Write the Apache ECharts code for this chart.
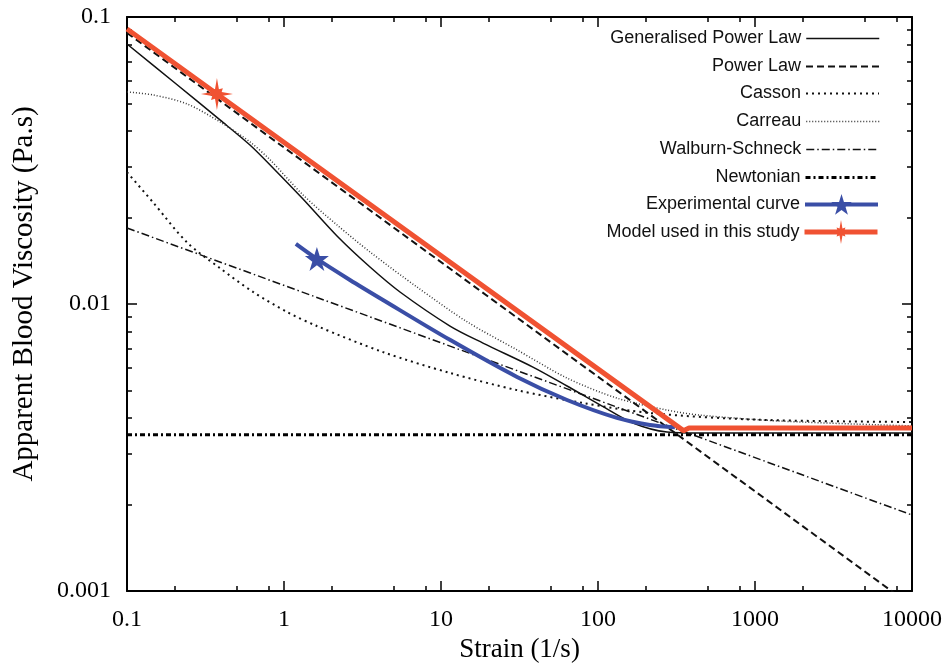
<!DOCTYPE html>
<html>
<head>
<meta charset="utf-8">
<script src="https://cdn.jsdelivr.net/npm/echarts@6/dist/echarts.min.js"></script>
<style>
html, body { margin: 0; padding: 0; background: #fff; }
#chart { width: 951px; height: 669px; }
</style>
</head>
<body>
<div id="chart"></div>
<script>
// ticks
var xTickLabels = ['0.1', '1', '10', '100', '1000', '10000'];
var xMinorTicks = [0.2, 0.5, 0.8, 2, 5, 8, 20, 50, 80, 200, 500, 800, 2000, 5000, 8000];
var xMajorTicks = [0.1, 1, 10, 100, 1000, 10000];
var yTickLabels = ['0.001', '0.01', '0.1'];
var yMinorTicks = [0.002, 0.003, 0.004, 0.005, 0.006, 0.007, 0.008, 0.009,
                   0.02, 0.03, 0.04, 0.05, 0.06, 0.07, 0.08, 0.09];
var yMajorTicks = [0.001, 0.01, 0.1];

// curves, strain (1/s) vs viscosity (Pa.s)
var gplStrain = [0.1, 0.2021, 0.391, 0.607, 0.876, 1.321, 2.176, 3.53, 5.48, 11.41, 18.5, 38.5, 63.5, 103, 167, 275, 446, 10000];
var gplVisc   = [0.0805, 0.0589, 0.0438, 0.0358, 0.0293, 0.0232, 0.01725, 0.01345, 0.01101, 0.00838, 0.00731, 0.00603, 0.00518, 0.00445, 0.00385, 0.00358, 0.00355, 0.00355];

var plStrain = [0.1, 10000];
var plVisc   = [0.088, 0.000887];

var cassonStrain = [0.1, 0.1465, 0.241, 0.391, 0.635, 1.05, 1.62, 4.27, 11.4, 30.5, 80, 214, 1070, 10000];
var cassonVisc   = [0.0288, 0.0226, 0.0164, 0.01333, 0.01102, 0.00937, 0.00838, 0.0068, 0.00575, 0.00501, 0.00452, 0.00417, 0.00395, 0.00388];

var carreauStrain = [0.1, 0.1465, 0.241, 0.391, 0.607, 0.815, 1.321, 2.176, 3.53, 7.03, 14.7, 30.5, 63.5, 132, 275, 446, 1443, 10000];
var carreauVisc   = [0.0548, 0.0535, 0.0498, 0.0431, 0.0367, 0.0318, 0.024, 0.01885, 0.01518, 0.01146, 0.00866, 0.00692, 0.00552, 0.0047, 0.00427, 0.0041, 0.00391, 0.00376];

var wsStrain = [0.1, 10000];
var wsVisc   = [0.0184, 0.00184];

var newtStrain = [0.1, 10000];
var newtVisc   = [0.0035, 0.0035];

var expStrain = [1.19, 1.62, 2.63, 4.27, 11.4, 30.5, 63.5, 132, 214, 309];
var expVisc   = [0.0162, 0.01436, 0.01213, 0.01033, 0.0075, 0.00557, 0.00463, 0.00401, 0.00379, 0.00372];
var expMarker = 1;

var modelStrain = [0.1, 0.374, 350, 380, 10000];
var modelVisc   = [0.0908, 0.0539, 0.00362, 0.0037, 0.0037];
var modelMarker = 1;

var seriesNames = ['Generalised Power Law', 'Power Law', 'Casson', 'Carreau',
                   'Walburn-Schneck', 'Newtonian', 'Experimental curve', 'Model used in this study'];

var starPath = 'path://M50 0 L61.2 34.5 L97.6 34.5 L68.2 55.9 L79.4 90.5 L50 69.1 L20.6 90.5 L31.8 55.9 L2.4 34.5 L38.8 34.5 Z';
var sparklePath = 'path://M100 50 L64.8 56.1 L68.4 68.4 L56.1 64.8 L50 100 L43.9 64.8 L31.6 68.4 L35.2 56.1 L0 50 L35.2 43.9 L31.6 31.6 L43.9 35.2 L50 0 L56.1 35.2 L68.4 31.6 L64.8 43.9 Z';

var lineStyles = [
    { color: '#111', width: 1.5, type: 'solid' },
    { color: '#111', width: 2, type: [7, 4] },
    { color: '#111', width: 2, type: [2, 4] },
    { color: '#333', width: 1.5, type: [1, 2] },
    { color: '#111', width: 1.5, type: [8, 3, 1.5, 3] },
    { color: '#000', width: 3, type: [5, 3, 2, 3] },
    { color: '#3a4ea6', width: 4, type: 'solid' },
    { color: '#f05232', width: 5, type: 'solid' }
];

function pairs(xs, ys, markIdx) {
    return xs.map(function (x, i) {
        var item = { value: [x, ys[i]] };
        if (markIdx !== undefined && i !== markIdx) {
            item.symbol = 'none';
        }
        return item;
    });
}

function lineSeries(idx, xs, ys, extra) {
    extra = extra || {};
    var style = lineStyles[idx];
    return {
        name: seriesNames[idx],
        type: 'line',
        xAxisIndex: 0,
        yAxisIndex: 0,
        data: pairs(xs, ys, extra.markIdx),
        symbol: extra.symbol || 'none',
        symbolSize: extra.symbolSize,
        smooth: extra.smooth ? 0.3 : false,
        lineStyle: style,
        itemStyle: { color: style.color },
        emphasis: { disabled: true },
        z: extra.z || 2
    };
}

function log10List(list) {
    return list.map(function (v) { return Math.log10(v); });
}

// one legend per row so the texts line up on the right
function makeLegend(name, i) {
    var hasMark = i >= 6;
    var h = i === 7 ? 30 : 26;
    return {
        data: [name],
        orient: 'vertical',
        right: 71,
        top: Math.round(41 + i * 27.7 - h / 2),
        align: 'right',
        itemWidth: 73,
        itemHeight: h,
        padding: 0,
        selectedMode: false,
        lineStyle: { width: lineStyles[i].width },
        itemStyle: hasMark ? {} : { opacity: 0 },
        textStyle: { fontFamily: 'Liberation Sans', fontSize: 18, color: '#111' }
    };
}

function helperAxis(position, min, max, ticks, len, showLine) {
    return {
        type: 'value', min: min, max: max, position: position,
        axisLine: { show: showLine, onZero: false, lineStyle: { color: '#000', width: 2 } },
        axisTick: { show: true, inside: true, length: len, customValues: log10List(ticks), lineStyle: { color: '#000', width: 1.5 } },
        axisLabel: { show: false },
        splitLine: { show: false }
    };
}

var serif = 'Liberation Serif';
var black = '#000';

var option = {
    animation: false,
    backgroundColor: '#fff',
    grid: { left: 127, right: 39, top: 17, bottom: 78, containLabel: false, outerBoundsMode: 'none' },
    legend: seriesNames.map(makeLegend),
    xAxis: [
        {
            type: 'log', logBase: 10, min: 0.1, max: 10000, position: 'bottom',
            name: 'Strain (1/s)', nameLocation: 'middle', nameGap: 44,
            nameTextStyle: { fontFamily: serif, fontSize: 27, color: black },
            axisLine: { onZero: false, lineStyle: { color: black, width: 2 } },
            axisTick: { inside: true, length: 10, lineStyle: { color: black, width: 1.5 } },
            axisLabel: {
                fontFamily: serif, fontSize: 24, color: black, margin: 17,
                formatter: function (v) { return xTickLabels[Math.round(Math.log10(v)) + 1]; }
            },
            splitLine: { show: false }
        },
        helperAxis('bottom', -1, 4, xMinorTicks, 5, false),
        helperAxis('top', -1, 4, xMajorTicks, 10, true),
        helperAxis('top', -1, 4, xMinorTicks, 5, false)
    ],
    yAxis: [
        {
            type: 'log', logBase: 10, min: 0.001, max: 0.1, position: 'left',
            name: 'Apparent Blood Viscosity (Pa.s)', nameLocation: 'middle', nameGap: 88,
            nameTextStyle: { fontFamily: serif, fontSize: 29, color: black, padding: [0, 0, 0, 20] },
            axisLine: { show: true, onZero: false, lineStyle: { color: black, width: 2 } },
            axisTick: { show: true, inside: true, length: 10, lineStyle: { color: black, width: 1.5 } },
            axisLabel: {
                fontFamily: serif, fontSize: 24, color: black, margin: 16,
                formatter: function (v) { return yTickLabels[Math.round(Math.log10(v)) + 3]; }
            },
            splitLine: { show: false }
        },
        helperAxis('left', -3, -1, yMinorTicks, 5, false),
        helperAxis('right', -3, -1, yMajorTicks, 10, true),
        helperAxis('right', -3, -1, yMinorTicks, 5, false)
    ],
    series: [
        lineSeries(0, gplStrain, gplVisc, { smooth: true }),
        lineSeries(1, plStrain, plVisc),
        lineSeries(2, cassonStrain, cassonVisc, { smooth: true }),
        lineSeries(3, carreauStrain, carreauVisc, { smooth: true }),
        lineSeries(4, wsStrain, wsVisc),
        lineSeries(5, newtStrain, newtVisc),
        lineSeries(6, expStrain, expVisc, { smooth: true, markIdx: expMarker, symbol: starPath, symbolSize: 24, z: 3 }),
        lineSeries(7, modelStrain, modelVisc, { markIdx: modelMarker, symbol: sparklePath, symbolSize: 32, z: 4 })
    ]
};

var myChart = echarts.init(document.getElementById('chart'), null, { renderer: 'canvas' });
myChart.setOption(option);
</script>
</body>
</html>
